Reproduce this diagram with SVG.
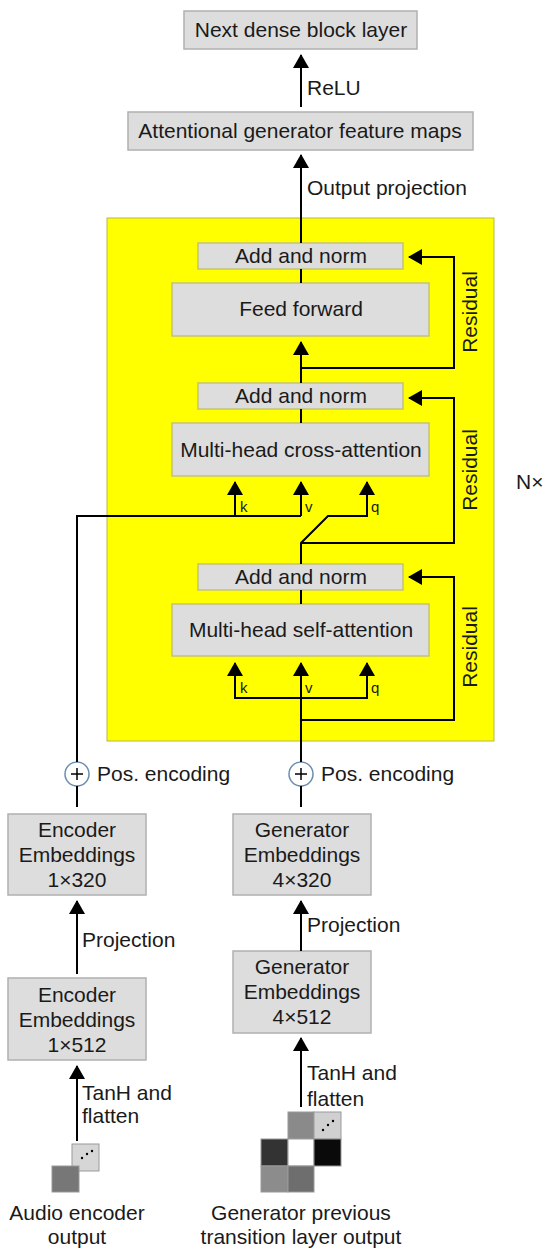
<svg xmlns="http://www.w3.org/2000/svg" width="550" height="1257" viewBox="0 0 550 1257">
<defs>
<style>
.box{fill:#dddddd;stroke:#b0b0b0;stroke-width:1.5}
.ybox{fill:#dddddd;stroke:#c2c27a;stroke-width:1.5}
.t{font-family:"Liberation Sans",Arial,sans-serif;font-size:21px;fill:#1a1a1a}
.c{text-anchor:middle}
.s{font-family:"Liberation Sans",Arial,sans-serif;font-size:15px;fill:#1a1a1a}
.ln{fill:none;stroke:#000;stroke-width:2}
.arr{fill:none;stroke:#000;stroke-width:2;marker-end:url(#ah)}
</style>
<marker id="ah" viewBox="0 0 14 16" refX="13" refY="8" markerWidth="14" markerHeight="16" markerUnits="userSpaceOnUse" orient="auto">
<path d="M0,0 L14,8 L0,16 Z" fill="#000"/>
</marker>
</defs>
<rect width="550" height="1257" fill="#fff"/>
<g id="nx-block">
<rect x="107" y="218" width="387" height="523" fill="#ffff00" stroke="#b8b84a" stroke-width="1"/>
</g>
<g id="next-dense">
<rect class="box" x="184" y="11" width="233" height="38"/>
<text class="t c" x="301" y="37">Next dense block layer</text>
</g>
<g id="attentional-maps">
<rect class="box" x="128" y="112" width="345" height="38"/>
<text class="t c" x="300" y="138">Attentional generator feature maps</text>
</g>
<g id="add-norm-1">
<rect class="ybox" x="198" y="243" width="205" height="26"/>
<text class="t c" x="301" y="263">Add and norm</text>
</g>
<g id="feed-forward">
<rect class="ybox" x="172" y="283" width="257" height="53"/>
<text class="t c" x="301" y="316">Feed forward</text>
</g>
<g id="add-norm-2">
<rect class="ybox" x="198" y="383" width="205" height="26"/>
<text class="t c" x="301" y="403">Add and norm</text>
</g>
<g id="cross-attention">
<rect class="ybox" x="172" y="423" width="257" height="53"/>
<text class="t c" x="301" y="457">Multi-head cross-attention</text>
</g>
<g id="add-norm-3">
<rect class="ybox" x="198" y="564" width="205" height="26"/>
<text class="t c" x="301" y="584">Add and norm</text>
</g>
<g id="self-attention">
<rect class="ybox" x="172" y="604" width="257" height="52"/>
<text class="t c" x="301" y="637">Multi-head self-attention</text>
</g>
<g id="enc-emb-320">
<rect class="box" x="8" y="814" width="138" height="81"/>
<text class="t c" x="77" y="837">Encoder</text>
<text class="t c" x="77" y="862">Embeddings</text>
<text class="t c" x="77" y="887">1×320</text>
</g>
<g id="gen-emb-320">
<rect class="box" x="233" y="814" width="138" height="81"/>
<text class="t c" x="302" y="837">Generator</text>
<text class="t c" x="302" y="862">Embeddings</text>
<text class="t c" x="302" y="887">4×320</text>
</g>
<g id="enc-emb-512">
<rect class="box" x="8" y="978" width="138" height="82"/>
<text class="t c" x="77" y="1002">Encoder</text>
<text class="t c" x="77" y="1027">Embeddings</text>
<text class="t c" x="77" y="1052">1×512</text>
</g>
<g id="gen-emb-512">
<rect class="box" x="233" y="951" width="138" height="82"/>
<text class="t c" x="302" y="974">Generator</text>
<text class="t c" x="302" y="999">Embeddings</text>
<text class="t c" x="302" y="1024">4×512</text>
</g>
<g id="audio-output">
<rect x="72" y="1144" width="27" height="27" fill="#d6d6d6" stroke="#9a9a9a" stroke-width="1"/>
<circle cx="82" cy="1158" r="1.2" fill="#000"/>
<circle cx="87" cy="1154" r="1.2" fill="#000"/>
<circle cx="92" cy="1151" r="1.2" fill="#000"/>
<rect x="52" y="1166" width="27" height="26" fill="#777" stroke="#999" stroke-width="1"/>
<text class="t c" x="77" y="1220">Audio encoder</text>
<text class="t c" x="77" y="1244">output</text>
</g>
<g id="generator-output">
<rect x="288" y="1112" width="26" height="27" fill="#8a8a8a" stroke="#999" stroke-width="1"/>
<rect x="314" y="1112" width="27" height="27" fill="#d0d0d0" stroke="#999" stroke-width="1"/>
<circle cx="323" cy="1130" r="1.2" fill="#000"/>
<circle cx="328" cy="1125" r="1.2" fill="#000"/>
<circle cx="333" cy="1121" r="1.2" fill="#000"/>
<rect x="261" y="1139" width="27" height="27" fill="#333" stroke="#999" stroke-width="1"/>
<rect x="288" y="1139" width="26" height="27" fill="#fff" stroke="#999" stroke-width="1"/>
<rect x="314" y="1139" width="27" height="27" fill="#0a0a0a" stroke="#999" stroke-width="1"/>
<rect x="261" y="1166" width="27" height="26" fill="#8c8c8c" stroke="#999" stroke-width="1"/>
<rect x="288" y="1166" width="26" height="26" fill="#6e6e6e" stroke="#999" stroke-width="1"/>
<text class="t c" x="301" y="1220">Generator previous</text>
<text class="t c" x="301" y="1244">transition layer output</text>
</g>
<g id="pos-enc-left">
<circle cx="77" cy="774" r="12" fill="#fff" stroke="#6a8db0" stroke-width="1.5"/>
<path d="M71,774 H83 M77,768 V780" stroke="#000" stroke-width="1.5"/>
</g>
<g id="pos-enc-right">
<circle cx="301" cy="774" r="12" fill="#fff" stroke="#6a8db0" stroke-width="1.5"/>
<path d="M295,774 H307 M301,768 V780" stroke="#000" stroke-width="1.5"/>
</g>
<g id="connectors">
<path class="arr" d="M301,107 V55"/>
<path class="arr" d="M301,243 V155"/>
<path class="ln" d="M301,269 V283"/>
<path class="arr" d="M301,383 V342"/>
<path class="arr" d="M301,368 H454 V257 H409"/>
<path class="ln" d="M301,409 V423"/>
<path class="ln" d="M77,762 V516 H301"/>
<path class="arr" d="M235,516 V482"/>
<path class="arr" d="M301,516 V482"/>
<path class="arr" d="M301,564 V543 L328,516 H367 V482"/>
<path class="arr" d="M301,543 H454 V398 H409"/>
<path class="ln" d="M301,590 V604"/>
<path class="ln" d="M235,663 V698 H367 V663"/>
<path class="arr" d="M235,698 V663"/>
<path class="arr" d="M367,698 V663"/>
<path class="arr" d="M301,762 V663"/>
<path class="arr" d="M301,720 H454 V577 H409"/>
<path class="ln" d="M77,786 V807"/>
<path class="ln" d="M301,786 V807"/>
<path class="arr" d="M77,974 V901"/>
<path class="arr" d="M301,951 V901"/>
<path class="arr" d="M77,1141 V1066"/>
<path class="arr" d="M301,1107 V1038"/>
</g>
<g id="labels">
<text class="t" x="307" y="95">ReLU</text>
<text class="t" x="307" y="195">Output projection</text>
<text class="t" transform="translate(477,312) rotate(-90)" text-anchor="middle">Residual</text>
<text class="t" transform="translate(477,470) rotate(-90)" text-anchor="middle">Residual</text>
<text class="t" transform="translate(477,647) rotate(-90)" text-anchor="middle">Residual</text>
<text class="s" x="240" y="512">k</text>
<text class="s" x="305" y="512">v</text>
<text class="s" x="371" y="512">q</text>
<text class="s" x="240" y="693">k</text>
<text class="s" x="305" y="693">v</text>
<text class="s" x="371" y="693">q</text>
<text class="t" x="516" y="489">N×</text>
<text class="t" x="97" y="781">Pos. encoding</text>
<text class="t" x="321" y="781">Pos. encoding</text>
<text class="t" x="82" y="947">Projection</text>
<text class="t" x="307" y="932">Projection</text>
<text class="t" x="82" y="1100">TanH and</text>
<text class="t" x="82" y="1123">flatten</text>
<text class="t" x="307" y="1080">TanH and</text>
<text class="t" x="307" y="1106">flatten</text>
</g>
</svg>
